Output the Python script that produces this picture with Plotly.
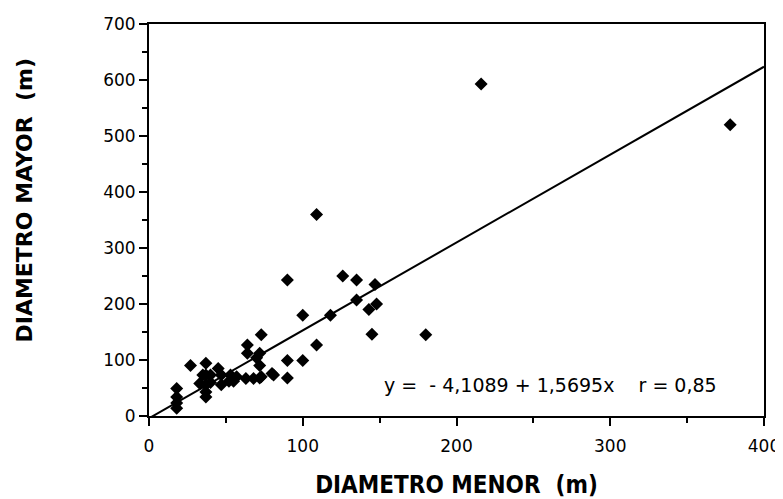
import plotly.graph_objects as go

# Data (diametro menor, diametro mayor), metres
menor = [18, 18, 18, 18, 27, 33, 35, 37, 37, 37, 37, 37, 40, 40, 45, 47, 47, 52, 53, 55,
         57, 63, 64, 64, 68, 70, 72, 72, 72, 73, 73, 80, 81, 90, 90, 90, 100, 100, 109, 109,
         118, 126, 135, 135, 145, 143, 148, 147, 180, 216, 378]
mayor = [14, 23, 34, 49, 90, 58, 73, 43, 56, 34, 94, 73, 73, 60, 85, 73, 56, 62, 73, 62,
         70, 67, 112, 127, 67, 104, 112, 90, 68, 145, 70, 76, 73, 68, 99, 243, 99, 180, 127, 360,
         180, 250, 243, 207, 146, 190, 200, 235, 145, 593, 520]

intercept = -4.1089
slope = 1.5695
line_x = [0, 400]
line_y = [intercept + slope * v for v in line_x]

x_ticks = [0, 100, 200, 300, 400]
y_ticks = [0, 100, 200, 300, 400, 500, 600, 700]

font_family = "'DejaVu Sans', sans-serif"
xtitle_family = "'DejaVu Sans Condensed', 'DejaVu Sans', sans-serif"
ytitle_family = "'DejaVu Sans', sans-serif"

fig = go.Figure()
fig.add_trace(go.Scatter(x=line_x, y=line_y, mode="lines",
                         line=dict(color="black", width=2), hoverinfo="skip"))
fig.add_trace(go.Scatter(x=menor, y=mayor, mode="markers",
                         marker=dict(symbol="diamond", size=10, color="black")))

fig.add_annotation(x=371, y=55, xref="x", yref="y", xanchor="right", yanchor="middle",
                   text="y =  - 4,1089 + 1,5695x&nbsp;&nbsp;&nbsp;&nbsp;r = 0,85",
                   showarrow=False, font=dict(family=font_family, size=19, color="black"))

# y-axis title, placed as rotated text (sits a little above the plot's centre in the reference)
fig.add_annotation(x=-0.203, y=0.55, xref="paper", yref="paper", xanchor="center", yanchor="middle",
                   text="<b>DIAMETRO MAYOR  (m)</b>", textangle=-90, showarrow=False,
                   font=dict(family=ytitle_family, size=22, color="black"))

# page body has an 8px margin, so the figure is sized/offset to compensate
fig.update_layout(
    width=775, height=491,
    margin=dict(l=141, r=19, t=16, b=83),
    paper_bgcolor="white", plot_bgcolor="white",
    showlegend=False,
    font=dict(family=font_family, size=16, color="black"),
)
fig.update_xaxes(
    range=[0, 400], tickvals=x_ticks, ticks="outside", ticklen=8, tickwidth=1.5,
    tickcolor="black", showgrid=False, zeroline=False, showline=True, linecolor="black",
    linewidth=2, mirror=True, automargin=False, ticklabelstandoff=6,
    minor=dict(dtick=50, ticks="outside", ticklen=5, tickcolor="black", tickwidth=1.5, showgrid=False),
    tickfont=dict(family=font_family, size=17),
    title=dict(text="<b>DIAMETRO MENOR  (m)</b>", standoff=22,
               font=dict(family=xtitle_family, size=24, color="black")),
)
fig.update_yaxes(
    range=[0, 700], tickvals=y_ticks, ticks="outside", ticklen=8, tickwidth=1.5,
    tickcolor="black", showgrid=False, zeroline=False, showline=True, linecolor="black",
    linewidth=2, mirror=True, automargin=False,
    minor=dict(dtick=50, ticks="outside", ticklen=5, tickcolor="black", tickwidth=1.5, showgrid=False),
    tickfont=dict(family=font_family, size=17),
)

fig.write_html("out.html")
